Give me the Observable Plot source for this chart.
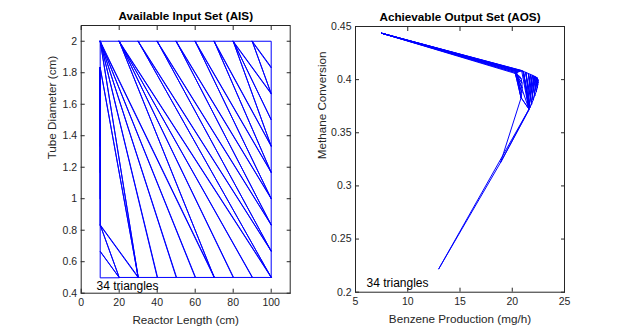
<!DOCTYPE html>
<html><head><meta charset="utf-8">
<script src="https://cdn.jsdelivr.net/npm/d3@7"></script>
<script src="https://cdn.jsdelivr.net/npm/@observablehq/plot@0.6"></script>
<style>
body{margin:0;background:#fff;}
#wrap{position:relative;width:624px;height:328px;background:#fff;}
#left,#right{position:absolute;top:0;}
#left{left:0;} #right{left:312px;}
</style></head><body><div id="wrap"><div id="left"></div><div id="right"></div></div>
<script>
// ---- vertices of the triangulation (36 boundary points) ----
// input space: reactor length (cm), tube diameter (cm)
const aisLength = [10,10,10,10,10,10,10,10,10,10,
  20,30,40,50,60,70,80,90,100,
  100,100,100,100,100,100,100,100,100,
  90,80,70,60,50,40,30,20];
const aisDiameter = [0.5,0.6667,0.8333,1.0,1.1667,1.3333,1.5,1.6667,1.8333,2.0,
  2,2,2,2,2,2,2,2,2,
  1.8333,1.6667,1.5,1.3333,1.1667,1.0,0.8333,0.6667,0.5,
  0.5,0.5,0.5,0.5,0.5,0.5,0.5,0.5];
// output space: benzene production (mg/h), methane conversion
const aosBenzene = [12.97,18.88,20.85,20.92,20.95,20.93,20.85,20.68,20.3,7.49,
  21.05,21.3,21.55,21.75,21.95,22.1,22.25,22.38,22.45,
  22.47,22.46,22.44,22.4,22.3,22.15,22.0,21.85,21.7,
  21.62,21.58,20.9,20.78,20.65,20.52,20.4,21.6];
const aosConversion = [0.222,0.322,0.383,0.388,0.3925,0.397,0.401,0.4035,0.4058,0.4437,
  0.4078,0.4068,0.4058,0.4049,0.404,0.4032,0.4024,0.4016,0.4005,
  0.399,0.397,0.395,0.3925,0.389,0.385,0.381,0.377,0.374,
  0.3728,0.3725,0.4084,0.408,0.4075,0.407,0.4064,0.3722];
// 34 triangles (vertex indices)
const triangles = [
  [0,1,35],[1,2,35],[2,35,34],[2,8,34],[8,9,34],
  [9,34,33],[9,33,32],[9,32,31],[9,31,30],[9,10,30],
  [10,30,29],[10,29,28],[10,28,27],[10,11,27],[11,27,26],
  [11,12,26],[12,26,25],[12,13,25],[13,25,24],[13,14,24],
  [14,24,23],[14,15,23],[15,23,22],[15,16,22],[16,22,21],
  [16,21,20],[16,17,20],[17,20,19],[17,18,19],
  [2,3,8],[3,4,8],[4,5,8],[5,6,8],[6,7,8]
];
// ticks
const aisXTicks = [0,20,40,60,80,100];
const aisYTicks = [0.4,0.6,0.8,1,1.2,1.4,1.6,1.8,2];
const aosXTicks = [5,10,15,20,25];
const aosYTicks = [0.2,0.25,0.3,0.35,0.4,0.45];
const triangleCount = triangles.length;

const fmt = d => String(+(+d).toFixed(3));
const FONT = "Liberation Sans, Arial, Helvetica, sans-serif";
const AX = "#262626";
const BLUE = "#0000ff";

function rows(xs, ys) {
  const out = [];
  triangles.forEach((t, k) => t.forEach(i => out.push({tri: k, x: xs[i], y: ys[i]})));
  return out;
}

function axes(xt, yt) {
  return [
    Plot.frame({stroke: AX, strokeWidth: 1}),
    Plot.axisX(xt, {anchor: "bottom", tickSize: -4, tickPadding: 9, tickFormat: fmt, label: null, stroke: AX, fill: AX, fontSize: 10.5}),
    Plot.axisX(xt, {anchor: "top", tickSize: -4, tickFormat: () => "", label: null, stroke: AX}),
    Plot.axisY(yt, {anchor: "left", tickSize: -4, tickPadding: 8, tickFormat: fmt, label: null, stroke: AX, fill: AX, fontSize: 10.5}),
    Plot.axisY(yt, {anchor: "right", tickSize: -4, tickFormat: () => "", label: null, stroke: AX})
  ];
}

function titles(title, xlabel, ylabel, ydx) {
  return [
    Plot.text([title], {frameAnchor: "top", lineAnchor: "middle", dy: -9, fontWeight: "bold", fontSize: 11.7, fill: "#000"}),
    Plot.text([xlabel], {frameAnchor: "bottom", lineAnchor: "middle", dy: 27.5, fontSize: 11.7, fill: AX}),
    Plot.text([ylabel], {frameAnchor: "left", lineAnchor: "middle", dx: ydx, rotate: -90, fontSize: 11.7, fill: AX})
  ];
}

const left = Plot.plot({
  width: 312, height: 328,
  marginLeft: 80.7, marginRight: 22.3, marginTop: 25, marginBottom: 35.3,
  style: {fontFamily: FONT, background: "white", color: AX, overflow: "visible"},
  x: {domain: [0, 110]},
  y: {domain: [0.4, 2.1]},
  marks: [
    Plot.line(rows(aisLength, aisDiameter), {x: "x", y: "y", z: "tri", curve: "linear-closed", stroke: BLUE, strokeWidth: 1}),
    ...axes(aisXTicks, aisYTicks),
    ...titles("Available Input Set (AIS)", "Reactor Length (cm)", "Tube Diameter (cm)", -29),
    Plot.text([`${triangleCount} triangles`], {x: () => 8.05, y: () => 0.4425, textAnchor: "start", lineAnchor: "middle", fontSize: 12, fill: "#000"})
  ]
});
document.getElementById("left").append(left);

const right = Plot.plot({
  width: 312, height: 328,
  marginLeft: 43, marginRight: 60, marginTop: 26, marginBottom: 36.3,
  style: {fontFamily: FONT, background: "white", color: AX, overflow: "visible"},
  x: {domain: [5, 25]},
  y: {domain: [0.2, 0.45]},
  marks: [
    Plot.line(rows(aosBenzene, aosConversion), {x: "x", y: "y", z: "tri", curve: "linear-closed", stroke: BLUE, strokeWidth: 1}),
    ...axes(aosXTicks, aosYTicks),
    ...titles("Achievable Output Set (AOS)", "Benzene Production (mg/h)", "Methane Conversion", -33),
    Plot.text([`${triangleCount} triangles`], {x: () => 6.05, y: () => 0.2085, textAnchor: "start", lineAnchor: "middle", fontSize: 12, fill: "#000"})
  ]
});
document.getElementById("right").append(right);
</script>
</body></html>
